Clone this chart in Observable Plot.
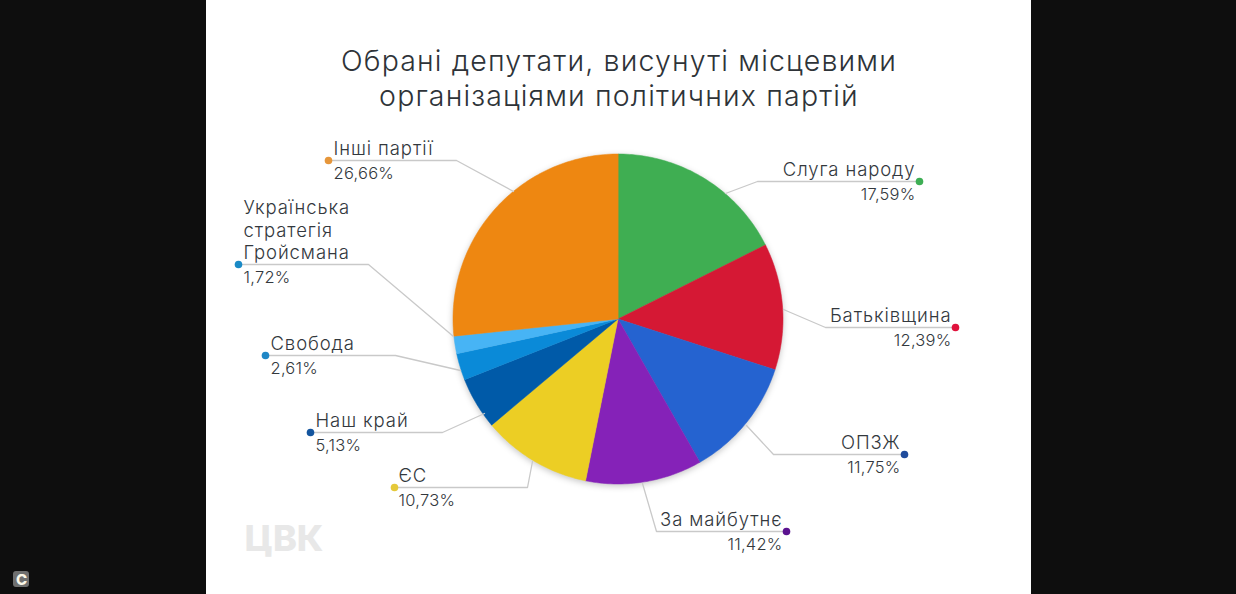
<!DOCTYPE html>
<html lang="uk">
<head>
<meta charset="utf-8">
<script src="https://cdn.jsdelivr.net/npm/d3@7"></script>
<script src="https://cdn.jsdelivr.net/npm/@observablehq/plot@0.6"></script>
<style>
html,body{margin:0;padding:0;background:#0e0e0e;overflow:hidden}
svg{display:block}
</style>
</head>
<body>
<script>
// --- chart values ---
const parties = ["Слуга народу","Батьківщина","ОПЗЖ","За майбутнє","ЄС","Наш край","Свобода","Українська\nстратегія\nГройсмана","Інші партії"];
const shares  = [17.59,12.39,11.75,11.42,10.73,5.13,2.61,1.72,26.66];
const shareLabels = ["17,59%","12,39%","11,75%","11,42%","10,73%","5,13%","2,61%","1,72%","26,66%"];
const titleLines = "Обрані депутати, висунуті місцевими\nорганізаціями політичних партій";
const sourceMark = "ЦВК";

// --- styles ---
const sliceColors = ["#3fae52","#d51834","#2563d0","#8522b8","#ecce24","#005aa8","#0a8ad8","#47b4f5","#ee8711"];
const dotColors   = ["#3dae54","#e0123c","#1f4c9c","#5b1290","#e5c93a","#14559e","#1f87c6","#1a8ac6","#e6963a"];

// --- layout (page pixels) ---
const W = 1236, H = 594;
const panel = {x1:206, x2:1031, y1:0, y2:594};
const pie = {cx:617.5, cy:318.5, r:165};
const leaderPts = [
  [[919,181],[757,181],[725,193]],
  [[955,327],[825,327],[783,309]],
  [[904,454],[773,454],[746,425]],
  [[786,531],[656,531],[642,483]],
  [[394,487],[527,487],[532,461]],
  [[310,432],[442,432],[484,413]],
  [[265,355],[395,355],[460,370]],
  [[238,264],[368,264],[453,336]],
  [[328,160],[456,160],[513,191]]
];
const labelX = [915,951,900,782,398,315,270,243,333];
const labelAnchor = ["end","end","end","end","start","start","start","start","start"];

// --- derived rows ---
const total = d3.sum(shares);
let cum = 0;
const slicePts = [];
parties.forEach((p,i)=>{
  const a0 = cum/total*2*Math.PI; cum += shares[i];
  const a1 = cum/total*2*Math.PI;
  const n = Math.max(2, Math.ceil((a1-a0)/(Math.PI/180)));
  slicePts.push({party:p,color:sliceColors[i],x:pie.cx,y:pie.cy});
  for(let k=0;k<=n;k++){
    const a = a0+(a1-a0)*k/n;
    slicePts.push({party:p,color:sliceColors[i],x:pie.cx+pie.r*Math.sin(a),y:pie.cy-pie.r*Math.cos(a)});
  }
});
const leaderRows = leaderPts.flatMap((pts,i)=>pts.map(([x,y])=>({party:parties[i],x,y})));
const labelRows = parties.map((p,i)=>({name:p,value:shareLabels[i],x:labelX[i],y:leaderPts[i][0][1],anchor:labelAnchor[i],dot:dotColors[i],dx:leaderPts[i][0][0]}));
const rows = a => labelRows.filter(d=>d.anchor===a);

const font = "Inter, 'Liberation Sans', sans-serif";
const ink = "#33383d";
const spaced = s => function(index, scales, values, dims, ctx, next){
  const g = next(index, scales, values, dims, ctx);
  g.style.letterSpacing = s + "px";
  return g;
};

const textMarks = a => [
  Plot.text(rows(a),{x:"x",y:d=>d.y-6,text:"name",textAnchor:a,lineAnchor:"bottom",fontSize:18.5,lineHeight:1.19,fill:ink,fontWeight:350,render:spaced(0.9)}),
  Plot.text(rows(a),{x:"x",y:d=>d.y+7,text:"value",textAnchor:a,lineAnchor:"top",fontSize:16.5,fill:ink,fontWeight:350,render:spaced(0.25)})
];

const chart = Plot.plot({
  width:W, height:H,
  margin:0,
  style:{background:"transparent",fontFamily:font},
  x:{type:"linear",domain:[0,W],range:[0,W],axis:null},
  y:{type:"linear",domain:[0,H],range:[0,H],axis:null},
  color:{type:"identity"},
  marks:[
    Plot.rect([panel],{x1:"x1",x2:"x2",y1:"y1",y2:"y2",fill:"#ffffff"}),
    Plot.text([titleLines],{x:618.5,y:76.5,text:d=>d,fontSize:28.5,lineHeight:1.26,fill:"#2e3338",fontWeight:350,render:spaced(1.15)}),
    Plot.line(slicePts,{x:"x",y:"y",z:"party",fill:"color",stroke:"color",strokeWidth:0.5,curve:"linear-closed",imageFilter:"drop-shadow(0 2px 3px rgba(0,0,0,.22))"}),
    Plot.line(leaderRows,{x:"x",y:"y",z:"party",stroke:"#c9c9c9",strokeWidth:1.3}),
    Plot.dot(labelRows,{x:"dx",y:"y",r:3.8,fill:"dot"}),
    ...textMarks("start"),
    ...textMarks("end"),
    Plot.text([sourceMark],{x:283.5,y:539,text:d=>d,fontSize:36,fontWeight:800,fill:"#e8e8e8"}),
    Plot.rect([{x1:13,x2:29,y1:571,y2:587}],{x1:"x1",x2:"x2",y1:"y1",y2:"y2",fill:"#6f6f6f",rx:3}),
    Plot.text(["C"],{x:21,y:579.5,text:d=>d,fontSize:15,fontWeight:800,fill:"#fbf7e8"})
  ]
});
document.body.appendChild(chart);
</script>
</body>
</html>
